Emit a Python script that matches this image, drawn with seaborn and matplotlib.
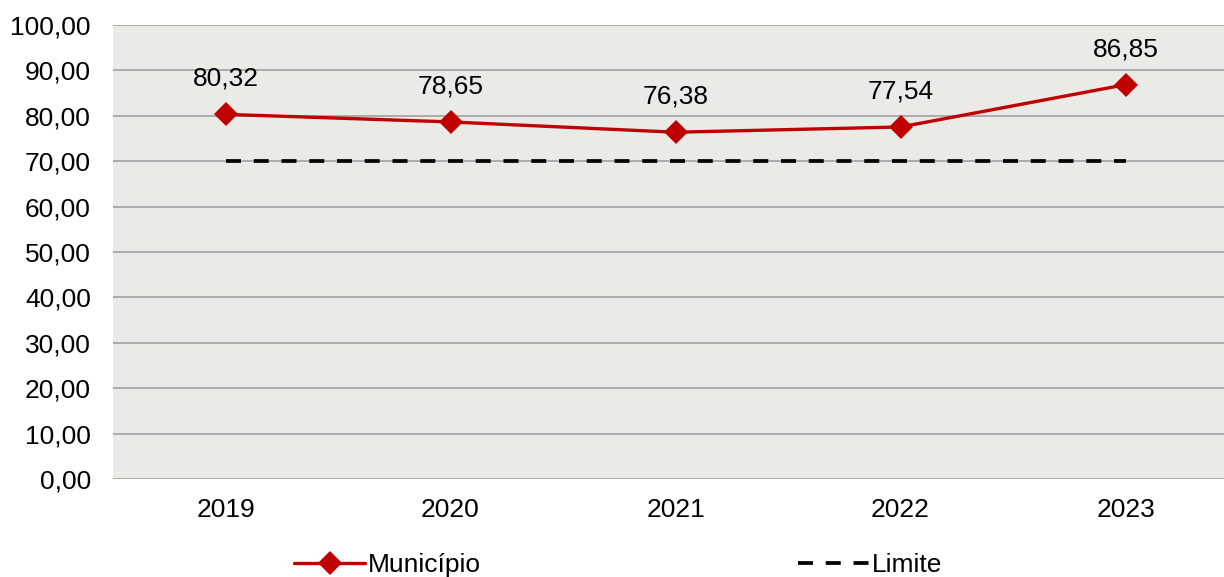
import pandas as pd
import matplotlib.pyplot as plt
import seaborn as sns

anos = ["2019", "2020", "2021", "2022", "2023"]
municipio = [80.32, 78.65, 76.38, 77.54, 86.85]
limite = [70, 70, 70, 70, 70]

df = pd.DataFrame({"Ano": anos, "Município": municipio, "Limite": limite})

sns.set_style("white")
plt.rcParams["font.family"] = ["Liberation Sans", "DejaVu Sans"]

fig = plt.figure(figsize=(12.24, 5.77), dpi=100)
ax = fig.add_axes([113 / 1224, 98 / 577, 1125 / 1224, 454 / 577])
ax.set_facecolor("#EAEBE7")

sns.lineplot(x="Ano", y="Município", data=df, ax=ax, color="#C00000",
             linewidth=2.4, marker="D", markersize=12, markeredgewidth=0,
             label="Município", sort=False)
sns.lineplot(x="Ano", y="Limite", data=df, ax=ax, color="black",
             linewidth=2.7, linestyle=(0, (4, 3.4)), label="Limite", sort=False)

for i, v in enumerate(municipio):
    ax.text(i, v + 7.8, f"{v:.2f}".replace(".", ","), ha="center", va="center",
            fontsize=19, color="black")

ax.set_xlim(-0.5, 4.5)
ax.set_ylim(0, 100)
ax.set_yticks(range(0, 101, 10))
ax.set_yticklabels([f"{t},00" for t in range(0, 101, 10)])
ax.grid(axis="y", color="#9A9A9A", linewidth=1.1)
ax.set_axisbelow(True)
for s in ax.spines.values():
    s.set_visible(False)
ax.tick_params(axis="both", length=0, labelsize=19, colors="black")
ax.tick_params(axis="x", pad=14)
ax.tick_params(axis="y", pad=16)
ax.set_xlabel("")
ax.set_ylabel("")

ax.get_legend().remove()
h, l = ax.get_legend_handles_labels()
fig.legend(h, l, loc="lower center", bbox_to_anchor=(0.505, -0.041), ncol=2,
           frameon=False, fontsize=19, handlelength=2.7, handletextpad=0.1,
           columnspacing=12, labelcolor="black")

fig.savefig("out.png", dpi=100, facecolor="white")
